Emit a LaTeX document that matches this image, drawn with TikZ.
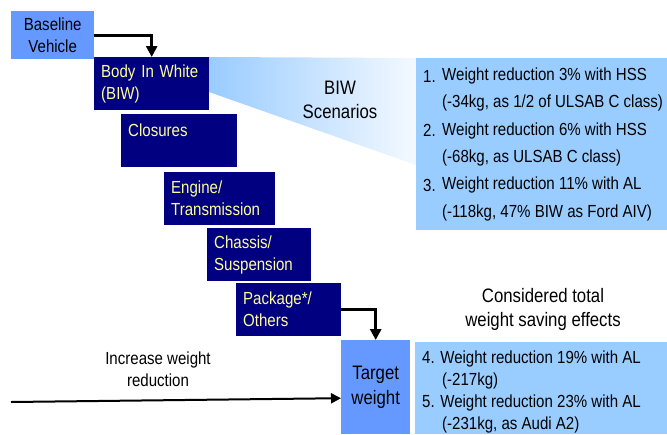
\documentclass[tikz,border=0pt]{standalone}
\usepackage{fontspec}
\setmainfont{Liberation Sans}[FakeStretch=0.86]
\usetikzlibrary{arrows.meta,positioning}
\definecolor{navy}{HTML}{000080}
\definecolor{paleyel}{HTML}{FFFF99}
\definecolor{midblue}{HTML}{6699FF}
\definecolor{skyblue}{HTML}{99CCFF}
\definecolor{fadeblue}{HTML}{F4F9FF}
\begin{document}
\begin{tikzpicture}[x=1pt,y=-1pt,
  every node/.style={font={\fontsize{17.5}{22}\selectfont}},
  big/.style={font={\fontsize{19.5}{24.5}\selectfont}},
  stage/.style={fill=navy,text=paleyel,anchor=north west,align=left,
    inner xsep=7pt,inner ysep=0pt,minimum height=53pt},
  lightbox/.style={fill=midblue,inner sep=0pt,align=center,anchor=north west},
  listbox/.style={fill=skyblue,inner sep=0pt,anchor=north west},
  item/.style={anchor=west,inner sep=0pt},
  flow/.style={line width=3pt,-{Triangle[width=11pt,length=11pt]}}]
  \useasboundingbox (0,0) rectangle (667,434);
  % Scenario fan
  \shade[left color=skyblue,right color=fadeblue]
    (209,57) -- (416,58) -- (416,165) -- (209,92) -- cycle;
  % Start
  \node[lightbox,minimum width=83,minimum height=48] (base) at (11,11) {Baseline\\Vehicle};
  % Stages
  \node[stage,text width=101pt] (biw) at (94,57) {Body In White\\(BIW)};
  \node[stage,text width=102pt] (clos) at (121,114) {Closures\\~};
  \node[stage,text width=97pt] (eng) at (164,172) {Engine/\\Transmission};
  \node[stage,text width=90pt] (chas) at (207,228) {Chassis/\\Suspension};
  \node[stage,text width=91pt] (pkg) at (236,283) {Package*/\\Others};
  % Goal
  \node[lightbox,big,minimum width=69,minimum height=94] (target) at (341,340) {Target\\weight};
  % BIW scenarios
  \node[big,align=center] (scenlabel) at (340,100) {BIW\\Scenarios};
  \node[listbox,minimum width=251,minimum height=172] (scen) at (416,58) {};
  \foreach \n/\y in {1/76,2/130.6,3/185.2}
    \node[item] (num\n) at (423,\y) {\n.};
  \foreach \k/\y/\t in {
    sa/76/{Weight reduction 3\% with HSS},
    sb/103.3/{(-34kg, as 1/2 of ULSAB C class)},
    sc/130.6/{Weight reduction 6\% with HSS},
    sd/157.9/{(-68kg, as ULSAB C class)},
    se/185.2/{Weight reduction 11\% with AL},
    sf/212.5/{(-118kg, 47\% BIW as Ford AIV)}}
    \node[item] (\k) at (442,\y) {\t};
  % Total effects
  \node[big,align=center] (efflabel) at (543,309.5) {Considered total\\weight saving effects};
  \node[listbox,minimum width=252,minimum height=92] (effects) at (415,342) {};
  \foreach \k/\x/\y/\t in {
    ea/422/359/{4. Weight reduction 19\% with AL},
    eb/442/381/{(-217kg)},
    ec/422/403/{5. Weight reduction 23\% with AL},
    ed/442/425/{(-231kg, as Audi A2)}}
    \node[item] (\k) at (\x,\y) {\t};
  % Direction
  \node[align=center] (incr) at (158,369) {Increase weight\\reduction};
  \coordinate (start) at (11,402);
  % Arrows
  \draw[flow] (base.east) -| (biw.north);
  \draw[flow] (pkg.east) -| (target.north);
  \draw[line width=2pt,-{Triangle[width=10pt,length=10pt]}] (start) -- ([yshift=-11pt]target.west);
\end{tikzpicture}
\end{document}
